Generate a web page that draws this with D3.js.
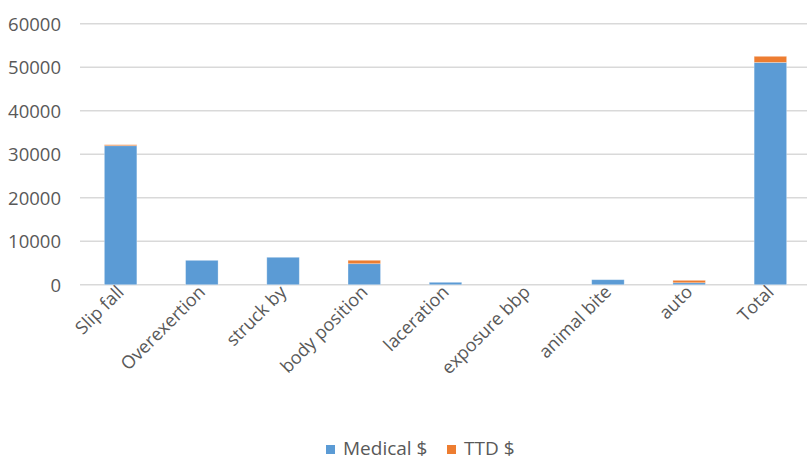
<!DOCTYPE html>
<html>
<head>
<meta charset="utf-8">
<script src="https://cdn.jsdelivr.net/npm/d3@7"></script>
<style>
  body { margin: 0; background: #fff; }
  text { font-family: "Open Sans", sans-serif; fill: #595959; }
</style>
</head>
<body>
<svg id="chart" width="807" height="460"></svg>
<script>
const categories = ["Slip fall", "Overexertion", "struck by", "body position", "laceration", "exposure bbp", "animal bite", "auto", "Total"];
const medical = [31950, 5600, 6300, 4830, 550, 0, 1150, 450, 51100];
const ttd = [230, 0, 0, 780, 0, 0, 0, 550, 1400];
const seriesNames = ["Medical $", "TTD $"];
const colors = ["#5b9bd5", "#ed7d31"];
const yTicks = [0, 10000, 20000, 30000, 40000, 50000, 60000];

const svg = d3.select("#chart");
const width = 807, height = 460;
const margin = { left: 80, right: -4, top: 23.7, bottom: 175.3 };

// build a table for the stack
const rows = categories.map((c, i) => ({ cat: c, m: medical[i], t: ttd[i] }));
const stack = d3.stack().keys(["m", "t"])(rows);

const x = d3.scaleBand()
    .domain(categories)
    .range([margin.left, width - margin.right])
    .paddingInner(0.6)
    .paddingOuter(0.3);

const y = d3.scaleLinear()
    .domain([0, 60000])
    .range([height - margin.bottom, margin.top]);

// gridlines
svg.append("g")
    .selectAll("line")
    .data(yTicks)
    .join("line")
    .attr("x1", margin.left)
    .attr("x2", width)
    .attr("y1", (d) => y(d))
    .attr("y2", (d) => y(d))
    .attr("stroke", "#d9d9d9")
    .attr("stroke-width", 1.5);

// y axis labels
const yAxis = svg.append("g")
    .attr("transform", `translate(${margin.left - 19},0)`)
    .call(d3.axisLeft(y).tickValues(yTicks).tickSize(0).tickPadding(0).tickFormat(d3.format("d")));
yAxis.select(".domain").remove();
yAxis.selectAll("text")
    .style("font-size", "18.5px")
    .style("font-family", "'Open Sans', sans-serif")
    .attr("fill", "#595959")
    .attr("dy", "0.36em");

// bars
svg.append("g")
    .selectAll("g")
    .data(stack)
    .join("g")
    .attr("fill", (d, i) => colors[i])
    .selectAll("rect")
    .data((d) => d)
    .join("rect")
    .attr("x", (d) => x(d.data.cat))
    .attr("width", x.bandwidth())
    .attr("y", (d) => y(d[1]))
    .attr("height", (d) => y(d[0]) - y(d[1]))
    .attr("stroke", "#ffffff")
    .attr("stroke-opacity", 0.35)
    .attr("stroke-width", 0.8);

// x labels, rotated
svg.append("g")
    .selectAll("text")
    .data(categories)
    .join("text")
    .attr("transform", (d) => `translate(${x(d) + x.bandwidth() / 2},${y(0) + 4}) rotate(-45)`)
    .attr("text-anchor", "end")
    .attr("dy", "0.35em")
    .style("font-size", "18px")
    .text((d) => d);

// legend
const legend = svg.append("g");
const legendX = [326, 447];
seriesNames.forEach((name, i) => {
    legend.append("rect")
        .attr("x", legendX[i])
        .attr("y", 445)
        .attr("width", 9)
        .attr("height", 9)
        .attr("fill", colors[i]);
    legend.append("text")
        .attr("x", legendX[i] + 17)
        .attr("y", 448)
        .attr("dy", "0.36em")
        .style("font-size", "19px")
        .text(name);
});
</script>
</body>
</html>
